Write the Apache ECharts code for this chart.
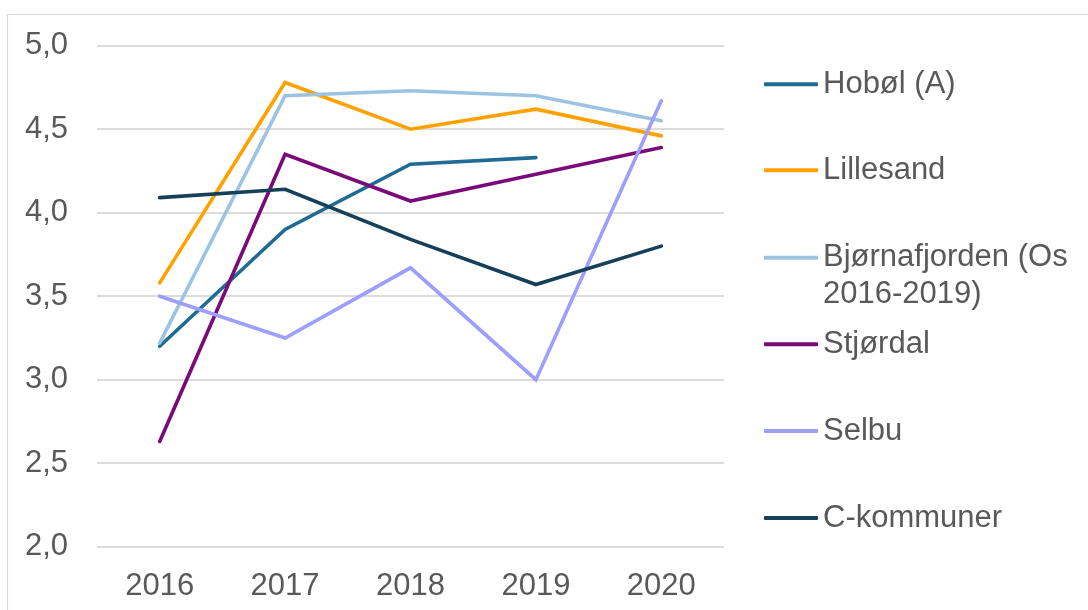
<!DOCTYPE html>
<html>
<head>
<meta charset="utf-8">
<script src="https://cdn.jsdelivr.net/npm/echarts@6/dist/echarts.min.js"></script>
<style>
  html, body { margin: 0; padding: 0; background: #fff; }
  #chart { width: 1088px; height: 610px; }
</style>
</head>
<body>
<div id="chart"></div>
<script>
// Years on the category axis
const years = ['2016', '2017', '2018', '2019', '2020'];

// Scores per municipality (null = no value that year)
const hobol = [3.20, 3.90, 4.29, 4.33, null];
const lillesand = [3.58, 4.78, 4.50, 4.62, 4.46];
const bjornafjorden = [3.22, 4.70, 4.73, 4.70, 4.55];
const stjordal = [2.63, 4.35, 4.07, 4.23, 4.39];
const selbu = [3.50, 3.25, 3.67, 3.00, 4.67];
const cKommuner = [4.09, 4.14, 3.84, 3.57, 3.80];

// Series names as shown in the legend
const names = ['Hobøl (A)', 'Lillesand', 'Bjørnafjorden (Os\n2016-2019)', 'Stjørdal', 'Selbu', 'C-kommuner'];
const values = [hobol, lillesand, bjornafjorden, stjordal, selbu, cKommuner];
const colors = ['#1F6B93', '#FFA200', '#9DC3E3', '#7A0A7A', '#9E9EFF', '#163F5A'];

// Value axis range
const yMin = 2.0, yMax = 5.0, yStep = 0.5;

const FONT = 'Liberation Sans, Arial, sans-serif';
const FS = 31;
const LH = 36.6;
const textColor = '#595959';

const chart = echarts.init(document.getElementById('chart'), null, { renderer: 'canvas' });

// One legend block per series so each entry sits on its own row;
// a two-line entry gets a leading blank line so its first line stays level with the swatch
const legendCenters = [82.3, 168.3, 255.7, 342.3, 429, 516];
const legends = names.map((n, i) => {
  const multi = n.indexOf('\n') >= 0;
  return {
    data: [n],
    orient: 'vertical',
    left: 764,
    top: (multi ? legendCenters[i] - 1.5 * LH : legendCenters[i] - LH / 2) + 2,
    padding: 0,
    icon: 'roundRect',
    itemWidth: 54,
    itemHeight: 4,
    selectedMode: false,
    formatter: name => (multi ? '\n' + name : name),
    textStyle: {
      fontFamily: FONT,
      fontSize: FS,
      lineHeight: LH,
      color: textColor
    }
  };
});

const series = names.map((n, i) => ({
  name: n,
  type: 'line',
  data: values[i],
  showSymbol: false,
  symbol: 'none',
  connectNulls: false,
  lineStyle: { width: 3.6, color: colors[i], cap: 'round', join: 'miter' },
  itemStyle: { color: colors[i] },
  emphasis: { disabled: true }
}));

chart.setOption({
  animation: false,
  backgroundColor: '#ffffff',
  graphic: [{
    type: 'rect',
    shape: { x: 7.5, y: 14.5, width: 1200, height: 700 },
    style: { fill: 'none', stroke: '#d9d9d9', lineWidth: 1.2 },
    silent: true,
    z: -10
  }],
  legend: legends,
  grid: { left: 97, right: 364, top: 45.7, bottom: 63.3, containLabel: false },
  xAxis: {
    type: 'category',
    data: years,
    boundaryGap: true,
    axisLine: { show: false },
    axisTick: { show: false },
    axisLabel: { fontFamily: FONT, fontSize: FS, color: textColor, margin: 24 }
  },
  yAxis: {
    type: 'value',
    min: yMin,
    max: yMax,
    interval: yStep,
    axisLine: { show: false },
    axisTick: { show: false },
    splitLine: { lineStyle: { color: '#dcdcdc', width: 2 } },
    axisLabel: {
      fontFamily: FONT, fontSize: FS, color: textColor, margin: 29,
      formatter: v => v.toFixed(1).replace('.', ',')
    }
  },
  series: series
});
</script>
</body>
</html>
